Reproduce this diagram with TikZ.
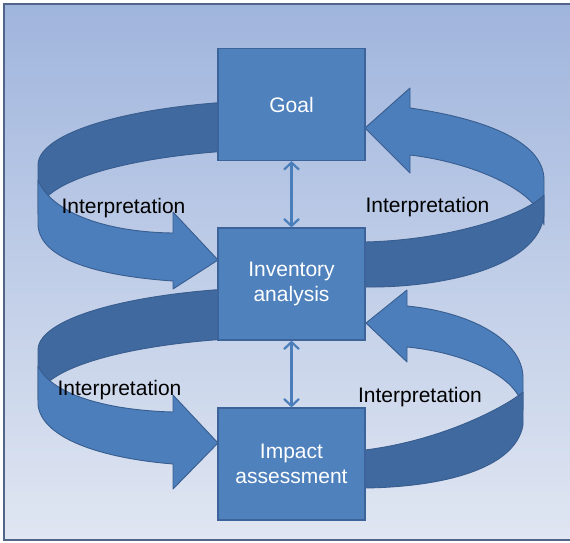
\documentclass[tikz,border=0pt]{standalone}
\usepackage{fontspec}
\setmainfont{Liberation Sans}
\usetikzlibrary{arrows.meta}
\pgfdeclarelayer{backdrop}
\pgfdeclarelayer{ribbons}
\pgfsetlayers{backdrop,ribbons,main}
\definecolor{bgtop}{RGB}{160,181,221}
\definecolor{bgbot}{RGB}{224,230,242}
\definecolor{frameline}{RGB}{82,100,135}
\definecolor{boxfill}{RGB}{79,129,189}
\definecolor{boxline}{RGB}{60,100,155}
\definecolor{ribbonlight}{RGB}{76,126,188}
\definecolor{ribbondark}{RGB}{64,105,160}
\definecolor{ribbonedge}{RGB}{56,93,142}
\definecolor{linkblue}{RGB}{74,126,187}
\tikzset{
  stagebox/.style={draw=boxline, line width=1.2pt, fill=boxfill, text=white,
    minimum width=147pt, minimum height=112pt, inner sep=0pt,
    font=\fontsize{21}{25.5}\selectfont, align=center},
  ribbonfront/.style={fill=ribbonlight, draw=ribbonedge, line width=0.9pt, line join=round},
  ribbonback/.style={fill=ribbondark, draw=ribbonedge, line width=0.9pt, line join=round},
  twoway/.style={draw=linkblue, line width=2.2pt,
    {Straight Barb[length=7pt,width=15pt]}-{Straight Barb[length=7pt,width=15pt]}},
  looplabel/.style={font=\fontsize{21}{25}\selectfont, text=black, anchor=base, inner sep=0pt}
}
\begin{document}
\begin{tikzpicture}[x=1pt,y=-1pt]
\useasboundingbox (0,0) rectangle (570,542);

% page backdrop with its frame
\begin{pgfonlayer}{backdrop}
  \fill[white] (0,0) rectangle (570,542);
  \shade[top color=bgtop, bottom color=bgbot] (4,4) rectangle (570,540);
  \draw[frameline, line width=1.6pt] (570,4) -- (4,4) -- (4,540) -- (570,540);
\end{pgfonlayer}

% the three stages
\node[stagebox] (goal) at (291.5,104.5) {Goal};
\node[stagebox] (inv)  at (291.5,284)   {Inventory\\analysis};
\node[stagebox] (imp)  at (291.5,464)   {Impact\\assessment};

% twisted ribbons that loop around the stages
\begin{pgfonlayer}{ribbons}
  % upper loop, far side: left part (inner face) and right arrow into Goal
  \path[ribbonback] (291,100) .. controls (151,100) and (38,129) .. (38,165)
    -- (38,214) .. controls (38,178) and (151,149) .. (291,149) -- cycle;
  \path[ribbonfront] (544,225) .. controls (540,190) and (470,162) .. (410,155)
    -- (410,173) -- (365,128) -- (410,88) -- (410,108)
    .. controls (480,118) and (544,140) .. (544,180) -- cycle;
  % lower loop, far side
  \path[ribbonback] (291,287) .. controls (151,287) and (38,315) .. (38,350)
    -- (38,400) .. controls (38,365) and (151,337) .. (291,337) -- cycle;
  \path[ribbonfront] (523,410) .. controls (520,375) and (460,352) .. (407,347)
    -- (407,362) -- (366,323) -- (407,290) -- (407,306)
    .. controls (470,312) and (523,340) .. (523,378) -- cycle;
  % upper loop, near side: left arrow into Inventory and right part (inner face)
  \path[ribbonfront] (38,180) .. controls (50,210) and (100,232) .. (173,233)
    -- (173,212) -- (218,260) -- (173,289) -- (173,281)
    .. controls (100,276) and (40,260) .. (38,225) -- cycle;
  \path[ribbonback] (340,243) -- (365,242) .. controls (450,240) and (525,215) .. (544,195)
    -- (544,215) .. controls (538,268) and (440,288) .. (365,287) -- (340,287) -- cycle;
  % lower loop, near side
  \path[ribbonfront] (38,366) .. controls (50,392) and (100,410) .. (173,412)
    -- (173,395) -- (218,443) -- (173,489) -- (173,464)
    .. controls (100,458) and (42,438) .. (38,405) -- cycle;
  \path[ribbonback] (345,450) -- (365,450) .. controls (445,440) and (508,405) .. (523,392)
    -- (523,425) .. controls (515,470) and (440,487) .. (365,488) -- (345,488) -- cycle;
\end{pgfonlayer}

% two-way links between neighbouring stages
\draw[twoway] (goal.south) -- (inv.north);
\draw[twoway] (inv.south) -- (imp.north);

% loop labels
\node[looplabel] (lblA) at (123.5,213) {Interpretation};
\node[looplabel] (lblB) at (427.5,212) {Interpretation};
\node[looplabel] (lblC) at (119.5,395) {Interpretation};
\node[looplabel] (lblD) at (420,402)   {Interpretation};
\end{tikzpicture}
\end{document}
